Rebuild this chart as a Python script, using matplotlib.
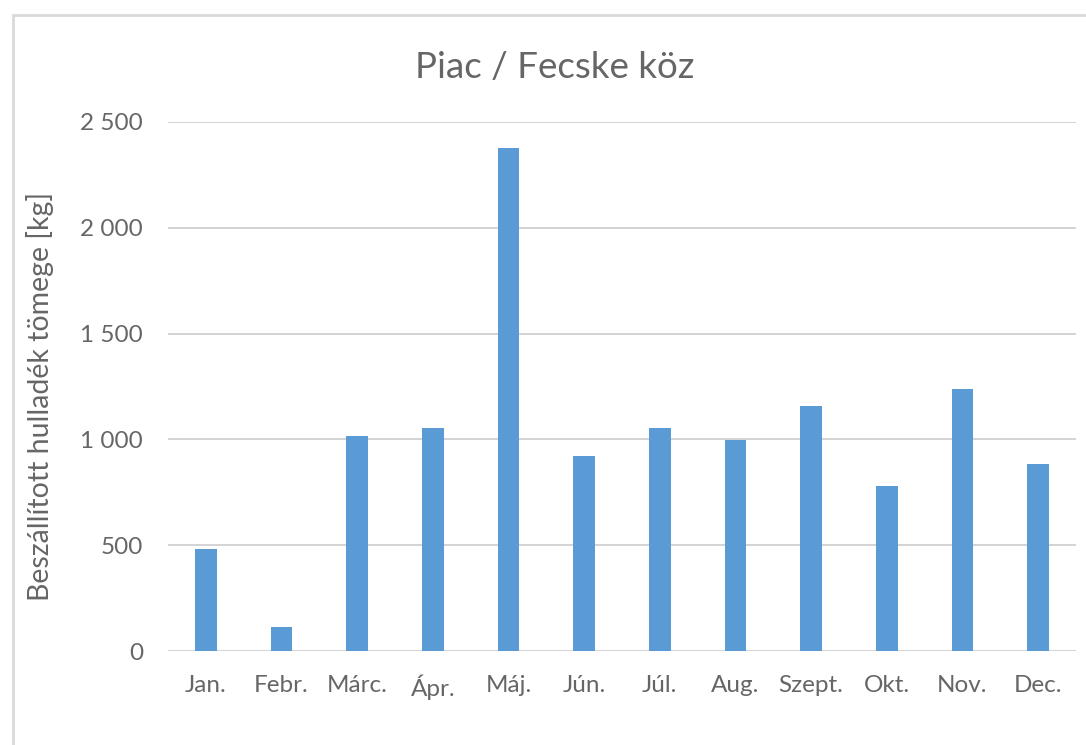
import matplotlib
matplotlib.use("Agg")
import matplotlib.pyplot as plt
from matplotlib.patches import Rectangle
from matplotlib.ticker import FuncFormatter

months = ["Jan.", "Febr.", "Márc.", "Ápr.", "Máj.", "Jún.", "Júl.",
          "Aug.", "Szept.", "Okt.", "Nov.", "Dec."]
waste_kg = [482, 113, 1016, 1054, 2377, 922, 1054, 997, 1158, 780, 1238, 884]
yticks = [0, 500, 1000, 1500, 2000, 2500]

plt.rcParams['font.family'] = ['Lato', 'DejaVu Sans']
text_col = "#666666"

fig = plt.figure(figsize=(10.86, 7.45), dpi=100)
ax = fig.add_axes([168 / 1086, 1 - 651 / 745, (1076 - 168) / 1086, (651 - 122) / 745])

# light frame round the chart, clipped at the right and bottom like the original
fig.patches.append(Rectangle((13 / 1086, -0.05), 1.2, 1 - 15 / 745 + 0.05,
                             transform=fig.transFigure, fill=False,
                             edgecolor="#d9d9d9", linewidth=2))

x = range(len(months))
ax.bar(x, waste_kg, width=0.29, color="#5b9bd5", zorder=3)

ax.set_ylim(0, 2500)
ax.set_xlim(-0.5, len(months) - 0.5)
ax.set_yticks(yticks)
ax.yaxis.set_major_formatter(FuncFormatter(lambda v, p: f"{int(v):,}".replace(",", " ")))
ax.set_xticks(list(x))
ax.set_xticklabels(months)
ax.grid(axis="y", color="#d0d0d0", linewidth=1.3, zorder=0)
for s in ax.spines.values():
    s.set_visible(False)
ax.tick_params(length=0, labelsize=17.5, labelcolor=text_col)
ax.tick_params(axis="y", pad=18)
ax.tick_params(axis="x", pad=17)

ax.set_ylabel("Beszállított hulladék tömege [kg]", fontsize=20.5, color=text_col)
ax.yaxis.set_label_coords(40 / 1086, 1 - 396 / 745, transform=fig.transFigure)
ax.yaxis.label.set_va("center")
fig.text(555 / 1086, 1 - 68 / 745, "Piac / Fecske köz", fontsize=26.5, color=text_col,
         ha="center", va="center")

fig.savefig("out.png", dpi=100)
